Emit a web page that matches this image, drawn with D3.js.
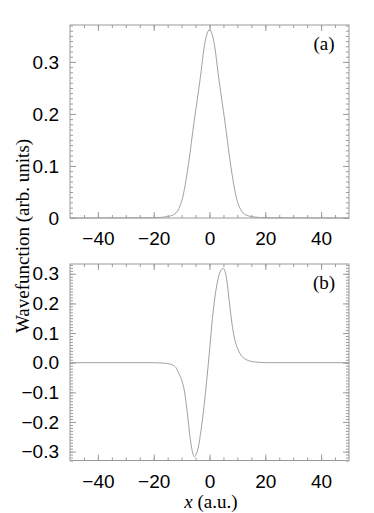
<!DOCTYPE html>
<html lang="en">
<head>
    <meta charset="UTF-8">
    <title>wavefunction</title>
    <script src="https://cdn.jsdelivr.net/npm/d3@7"></script>
    <style>
        body{margin:0;background:#fff;}
        svg{display:block;}
        .frame{fill:none;stroke:#9a9a9a;stroke-width:1;}
        .tick line{stroke:#9a9a9a;}
        .domain{display:none;}
        .lbl text{font-family:"Liberation Sans",Arial,sans-serif;font-size:19px;fill:#000;}
        .serif{font-family:"Liberation Serif","Times New Roman",serif;font-size:19px;fill:#000;}
    </style>
</head>
<body>
<div id="chart"></div>
<script>
    // panel (a)
    var xA = [-50,-20,-16,-14,-13,-12,-11,-10,-9,-8,-7,-6,-5,-4,-3,-2,-1,0,1,2,3,4,5,6,7,8,9,10,11,12,13,14,16,20,50];
    var yA = [0,0.0005,0.002,0.004,0.006,0.010,0.018,0.032,0.055,0.087,0.124,0.166,0.205,0.242,0.282,0.325,0.352,0.362,0.352,0.325,0.282,0.242,0.205,0.166,0.124,0.087,0.055,0.032,0.018,0.010,0.006,0.004,0.002,0.0005,0];
    // panel (b)
    var xB = [-50,-20,-16,-14,-13,-12,-11,-10,-9,-8,-7,-6,-5.5,-5,-4,-3,-2,-1,0,1,2,3,4,5,6,7,8,9,10,11,12,13,14,16,18,20,50];
    var yB = [0,0,-0.002,-0.005,-0.009,-0.017,-0.036,-0.058,-0.095,-0.165,-0.25,-0.305,-0.317,-0.313,-0.285,-0.225,-0.15,-0.06,0.04,0.145,0.225,0.28,0.31,0.318,0.29,0.215,0.135,0.08,0.05,0.03,0.018,0.011,0.007,0.003,0.001,0,0];

    var xTicks = [-40,-20,0,20,40];
    var yTicksA = [0,0.1,0.2,0.3];
    var yTicksB = [-0.3,-0.2,-0.1,0.0,0.1,0.2,0.3];

    var W = 374, H = 513;
    var svg = d3.select('#chart').append('svg').attr('width',W).attr('height',H);

    var x = d3.scaleLinear().domain([-50,50]).range([70,349]);

    function fmtA(d){ return d===0 ? '0' : d3.format('.1f')(d); }
    function fmtB(d){ return d3.format('.1f')(d).replace('-','\u2212'); }

    function panel(xs, ys, yDomain, top, bottom, yTicks, fmt, tag){
        var y = d3.scaleLinear().domain(yDomain).range([bottom,top]);
        var g = svg.append('g');
        var ymin = Math.ceil(yDomain[0]*100), ymax = Math.floor(yDomain[1]*100);
        var minorY = d3.range(ymin, ymax+1).map(function(d){ return d/100; });
        var minorX = d3.range(-45,50,5);

        // minor ticks, all four sides, pointing in
        g.append('g').attr('transform','translate('+x.range()[0]+',0)')
            .call(d3.axisLeft(y).tickValues(minorY).tickSize(-3).tickFormat(''));
        g.append('g').attr('transform','translate('+x.range()[1]+',0)')
            .call(d3.axisRight(y).tickValues(minorY).tickSize(-3).tickFormat(''));
        g.append('g').attr('transform','translate(0,'+bottom+')')
            .call(d3.axisBottom(x).tickValues(minorX).tickSize(-3).tickFormat(''));
        g.append('g').attr('transform','translate(0,'+top+')')
            .call(d3.axisTop(x).tickValues(minorX).tickSize(-3).tickFormat(''));
        // major ticks
        g.append('g').attr('class','lbl').attr('transform','translate('+x.range()[0]+',0)')
            .call(d3.axisLeft(y).tickValues(yTicks).tickSize(-6).tickPadding(11).tickFormat(fmt));
        g.append('g').attr('transform','translate('+x.range()[1]+',0)')
            .call(d3.axisRight(y).tickValues(yTicks).tickSize(-6).tickFormat(''));
        g.append('g').attr('class','lbl').attr('transform','translate(0,'+bottom+')')
            .call(d3.axisBottom(x).tickValues(xTicks).tickSize(-6).tickPadding(14)
                .tickFormat(function(d){ return String(d).replace('-','\u2212'); }));
        g.append('g').attr('transform','translate(0,'+top+')')
            .call(d3.axisTop(x).tickValues(xTicks).tickSize(-6).tickFormat(''));

        g.append('rect').attr('class','frame')
            .attr('x',x.range()[0]).attr('y',top)
            .attr('width',x.range()[1]-x.range()[0]).attr('height',bottom-top);

        var line = d3.line()
            .x(function(d){ return x(d[0]); })
            .y(function(d){ return y(d[1]); })
            .curve(d3.curveMonotoneX);
        g.append('path').datum(d3.zip(xs, ys))
            .attr('d',line).attr('fill','none')
            .attr('stroke','#a0a0a0').attr('stroke-width',1);

        g.append('text').attr('class','serif')
            .attr('x',324).attr('y',top+25).attr('text-anchor','middle').text(tag);
    }

    panel(xA, yA, [0,0.371], 25, 218, yTicksA, fmtA, '(a)');
    panel(xB, yB, [-0.33,0.333], 264, 460.5, yTicksB, fmtB, '(b)');

    // axis titles
    svg.append('text').attr('class','serif')
        .attr('transform','translate(29,236) rotate(-90)')
        .attr('text-anchor','middle')
        .text('Wavefunction (arb. units)');

    var xt = svg.append('text').attr('class','serif')
        .attr('x',211).attr('y',508).attr('text-anchor','middle');
    xt.append('tspan').style('font-style','italic').text('x');
    xt.append('tspan').text(' (a.u.)');
</script>
</body>
</html>
